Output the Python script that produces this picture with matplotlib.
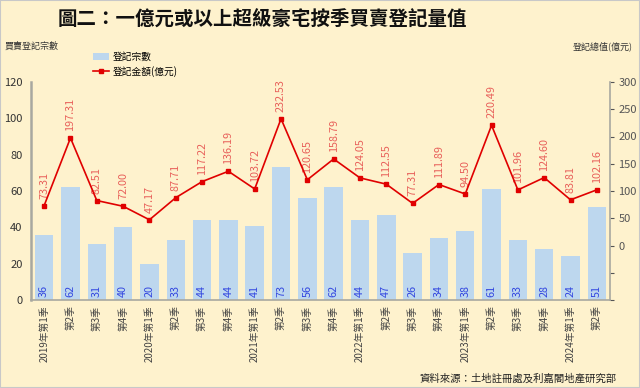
import matplotlib
matplotlib.use("Agg")
import matplotlib.pyplot as plt
import numpy as np

plt.rcParams['font.family'] = ['Noto Sans CJK TC', 'DejaVu Sans']

quarters = ["2019年第1季", "第2季", "第3季", "第4季",
            "2020年第1季", "第2季", "第3季", "第4季",
            "2021年第1季", "第2季", "第3季", "第4季",
            "2022年第1季", "第2季", "第3季", "第4季",
            "2023年第1季", "第2季", "第3季", "第4季",
            "2024年第1季", "第2季"]
counts = [36, 62, 31, 40, 20, 33, 44, 44, 41, 73, 56, 62, 44, 47, 26, 34, 38, 61, 33, 28, 24, 51]
amounts = [73.31, 197.31, 82.51, 72.00, 47.17, 87.71, 117.22, 136.19, 103.72, 232.53, 120.65,
           158.79, 124.05, 112.55, 77.31, 111.89, 94.50, 220.49, 101.96, 124.60, 83.81, 102.16]
left_ticks = [0, 20, 40, 60, 80, 100, 120]
right_ticks = [-100, -50, 0, 50, 100, 150, 200, 250, 300]

bg = '#FEF2CD'
fig = plt.figure(figsize=(6.4, 3.88), dpi=100, facecolor=bg)
ax = fig.add_axes([31/640, 1-300/388, (610-31)/640, (300-82)/388])
ax.set_facecolor(bg)
x = np.arange(len(quarters))

bars = ax.bar(x, counts, width=0.7, color='#BDD7EE', label='登記宗數', zorder=2)
for xi, c in zip(x, counts):
    ax.text(xi, 1.5, str(c), rotation=90, ha='center', va='bottom', color='#3347E0', fontsize=7.8, zorder=5)

ax.set_xlim(-0.5, len(quarters) - 0.5)
ax.set_ylim(0, 120)
ax.set_yticks(left_ticks)
ax.tick_params(axis='y', length=0, labelsize=8, colors='#333333', pad=6)
ax.set_xticks(x)
ax.set_xticklabels(quarters, rotation=90, fontsize=7, color='#444444')
ax.tick_params(axis='x', length=0, pad=4)
for s in ['top', 'right']:
    ax.spines[s].set_visible(False)
ax.spines['left'].set_color('#A8A8A0')
ax.spines['left'].set_linewidth(1.8)
ax.spines['bottom'].set_color('#A8A8A0')
ax.spines['bottom'].set_linewidth(1.2)

ax2 = ax.twinx()
ax2.set_ylim(-100, 300)
ax2.set_yticks(right_ticks)
ax2.set_yticklabels(['', ''] + [str(t) for t in right_ticks[2:]])
line, = ax2.plot(x, amounts, color='#E00000', lw=1.2, marker='s', ms=3.5, label='登記金額(億元)', zorder=4)
for xi, a in zip(x, amounts):
    ax2.annotate(f"{a:.2f}", (xi, a), xytext=(0, 5), textcoords='offset points', rotation=90,
                 ha='center', va='bottom', color='#E8605A', fontsize=7.8)
ax2.tick_params(axis='y', length=3, labelsize=8, colors='#555555', pad=3)
for s in ['top', 'left', 'bottom']:
    ax2.spines[s].set_visible(False)
ax2.spines['right'].set_color('#A8A8A0')
ax2.spines['right'].set_linewidth(1.2)

fig.text(262/640, 1-20/388, '圖二：一億元或以上超級豪宅按季買賣登記量值', ha='center', va='center',
         fontsize=14, fontweight='bold', color='#111111')
fig.text(5/640, 1-46/388, '買賣登記宗數', ha='left', va='center', fontsize=6.5, color='#333333')
fig.text(633/640, 1-46/388, '登記總值(億元)', ha='right', va='center', fontsize=6.5, color='#333333')
fig.text(617/640, 1-379/388, '資料來源：土地註冊處及利嘉閣地產研究部', ha='right', va='center', fontsize=7.5, color='#222222')

fig.legend(handles=[bars, line], labels=['登記宗數', '登記金額(億元)'], loc='upper left',
           bbox_to_anchor=(93/640, 1-52/388), frameon=False, fontsize=7, handlelength=1.6,
           handletextpad=0.4, labelspacing=0.4, borderaxespad=0, borderpad=0)

fig.patches.append(plt.Rectangle((0, 0), 1, 1, transform=fig.transFigure, fill=False,
                                 edgecolor='#C8C8C8', lw=1.5))
fig.savefig('out.png', dpi=100, facecolor=bg)
